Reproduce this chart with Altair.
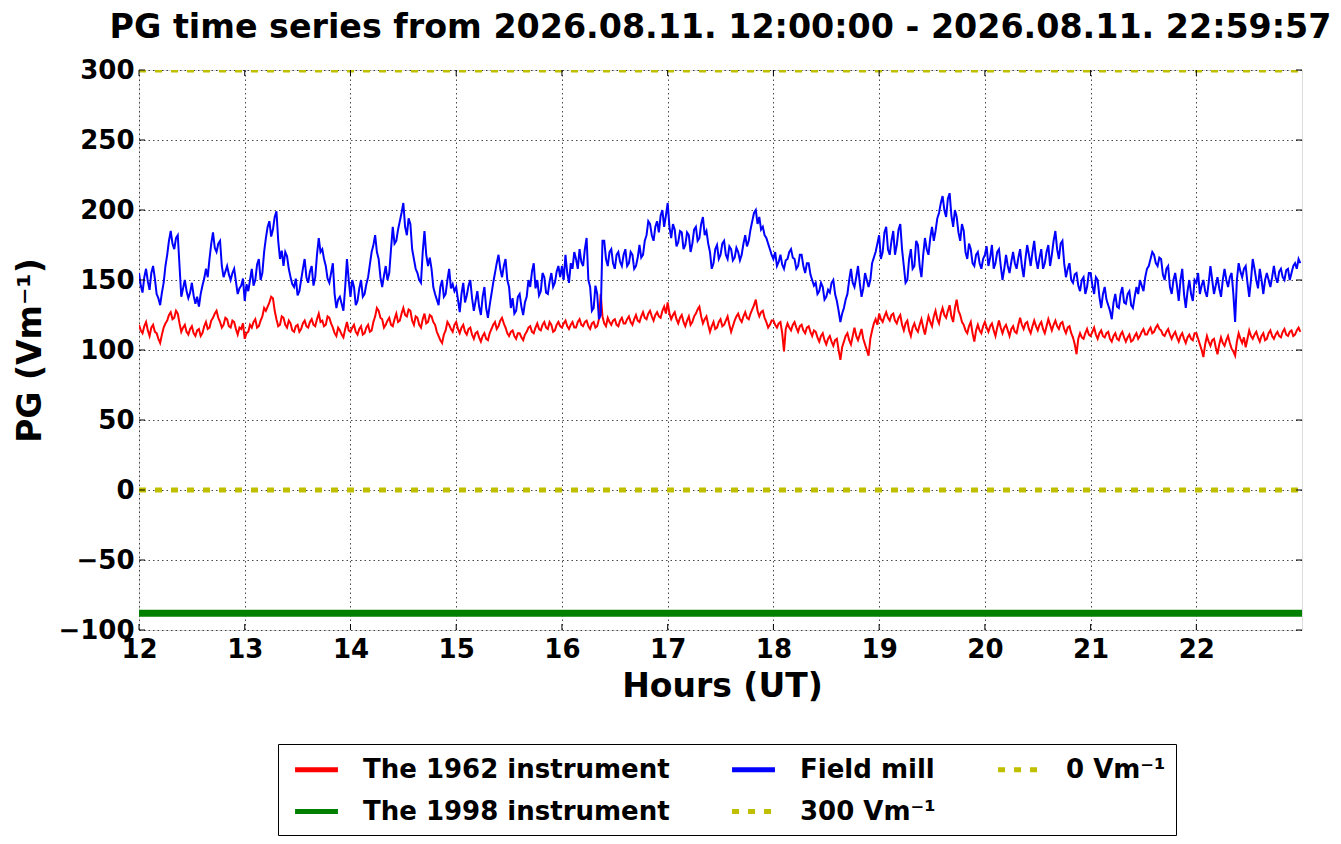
import altair as alt
import pandas as pd

TITLE = "PG time series from 2026.08.11. 12:00:00 - 2026.08.11. 22:59:57"
X_TITLE = "Hours (UT)"
Y_TITLE = "PG (Vm⁻¹)"

S_1962 = "The 1962 instrument"
S_1998 = "The 1998 instrument"
S_MILL = "Field mill"
S_300 = "300 Vm⁻¹"
S_0 = "0 Vm⁻¹"
# legend order (3 columns, filled column by column)
SERIES_ORDER = [S_1962, S_1998, S_MILL, S_300, S_0]
SERIES_COLORS = ["#ff0000", "#008000", "#0000ff", "#bfbf00", "#bfbf00"]
SERIES_DASH = [[1, 0], [1, 0], [1, 0], [7, 9], [7, 9]]

X_TICKS = list(range(12, 23))
Y_TICKS = list(range(-100, 301, 50))
X_DOMAIN = [12, 22.9992]
Y_DOMAIN = [-100, 300]

START_HOUR = 12
STEP_MIN = 1

# The 1962 instrument, one value per minute (rows = hours 12..22)
red_1962 = [
    118, 114, 112, 117, 120, 114, 110, 116, 118, 113, 112, 108, 105, 111, 116, 119, 121, 125, 127, 122, 123, 128, 126, 119, 113, 116, 118, 113, 111, 115,
    117, 112, 110, 114, 115, 110, 112, 117, 120, 115, 116, 121, 123, 126, 128, 123, 120, 116, 118, 123, 122, 117, 116, 121, 120, 115, 111, 116, 115, 119,
    108, 112, 113, 118, 116, 120, 122, 116, 117, 121, 124, 130, 128, 131, 134, 138, 137, 128, 122, 117, 118, 124, 123, 118, 116, 121, 119, 114, 113, 117,
    118, 113, 115, 119, 121, 117, 116, 120, 122, 118, 117, 122, 126, 120, 121, 117, 118, 124, 123, 119, 116, 112, 110, 116, 114, 111, 109, 115, 120, 114,
    113, 116, 118, 113, 111, 115, 117, 111, 112, 116, 118, 113, 114, 120, 124, 130, 128, 123, 122, 116, 118, 121, 123, 118, 117, 122, 126, 120, 121, 126,
    130, 125, 124, 129, 128, 121, 118, 124, 123, 118, 116, 122, 126, 119, 120, 125, 124, 120, 118, 113, 110, 107, 105, 111, 114, 120, 118, 115, 113, 118,
    120, 115, 112, 116, 118, 113, 111, 115, 116, 111, 108, 112, 113, 109, 106, 110, 112, 108, 107, 112, 115, 118, 120, 115, 117, 121, 123, 119, 116, 112,
    110, 113, 114, 110, 108, 112, 112, 109, 107, 111, 113, 116, 117, 113, 112, 116, 119, 115, 114, 118, 120, 116, 115, 120, 118, 113, 114, 118, 120, 117,
    116, 119, 121, 117, 115, 118, 120, 116, 116, 120, 122, 118, 117, 120, 121, 117, 115, 119, 120, 116, 117, 122, 140, 124, 119, 117, 123, 120, 118, 121,
    122, 118, 117, 121, 123, 119, 119, 122, 124, 120, 118, 122, 125, 121, 120, 124, 127, 123, 122, 126, 128, 124, 121, 125, 127, 124, 123, 128, 131, 126,
    134, 126, 122, 125, 127, 122, 119, 123, 125, 120, 117, 121, 124, 118, 120, 124, 126, 129, 131, 124, 119, 122, 124, 118, 113, 117, 120, 115, 116, 120,
    122, 117, 118, 121, 124, 118, 113, 117, 121, 124, 126, 122, 120, 124, 127, 123, 122, 126, 129, 132, 136, 128, 124, 127, 128, 123, 120, 116, 118, 121,
    121, 118, 116, 119, 120, 112, 99, 115, 119, 116, 114, 118, 120, 116, 113, 117, 118, 114, 112, 116, 117, 113, 110, 114, 113, 109, 106, 110, 112, 107,
    104, 108, 110, 106, 103, 107, 108, 100, 93, 102, 106, 110, 112, 107, 104, 110, 116, 110, 107, 111, 115, 108, 104, 100, 96, 108, 114, 119, 122, 118,
    126, 122, 120, 124, 127, 123, 121, 125, 126, 121, 119, 123, 125, 118, 114, 119, 121, 114, 110, 116, 119, 115, 113, 118, 122, 116, 111, 118, 124, 120,
    117, 124, 128, 122, 119, 126, 130, 125, 123, 128, 132, 124, 120, 130, 136, 128, 125, 120, 118, 114, 112, 117, 120, 112, 106, 114, 118, 114, 112, 117,
    120, 116, 113, 117, 119, 114, 110, 116, 121, 116, 112, 116, 118, 114, 110, 115, 117, 113, 112, 118, 123, 118, 115, 119, 120, 115, 112, 117, 121, 117,
    114, 118, 120, 115, 112, 117, 122, 118, 114, 118, 121, 117, 115, 119, 120, 115, 112, 116, 117, 112, 109, 104, 97, 108, 112, 109, 108, 112, 115, 111,
    110, 113, 116, 111, 108, 112, 114, 110, 109, 112, 113, 108, 106, 110, 112, 108, 107, 111, 113, 109, 106, 109, 111, 106, 107, 110, 112, 108, 110, 113,
    115, 111, 111, 114, 116, 112, 113, 116, 118, 115, 114, 111, 110, 113, 115, 111, 108, 111, 113, 109, 106, 110, 112, 108, 105, 109, 111, 108, 107, 112,
    112, 108, 104, 100, 95, 104, 110, 106, 103, 107, 108, 102, 97, 104, 109, 105, 103, 107, 110, 105, 101, 99, 96, 106, 112, 108, 105, 109, 102, 108,
    114, 110, 108, 111, 113, 109, 106, 110, 112, 107, 108, 112, 114, 110, 108, 111, 113, 110, 109, 113, 115, 111, 110, 113, 114, 110, 111, 114, 116, 113,
]

# Field mill, one value per minute (rows = hours 12..22)
field_mill = [
    155, 146, 141, 152, 158, 149, 143, 155, 160, 151, 140, 137, 132, 141, 148, 160, 168, 178, 185, 176, 172, 180, 182, 160, 138, 144, 150, 142, 137, 141,
    148, 139, 133, 138, 131, 140, 146, 151, 158, 152, 165, 176, 184, 173, 170, 176, 178, 160, 152, 156, 160, 154, 150, 155, 158, 149, 140, 144, 146, 151,
    135, 147, 142, 150, 158, 146, 150, 161, 165, 150, 155, 170, 180, 188, 192, 181, 186, 195, 199, 178, 165, 171, 160, 170, 167, 158, 152, 147, 145, 151,
    139, 142, 150, 158, 165, 152, 148, 156, 160, 146, 152, 168, 180, 170, 172, 165, 160, 151, 148, 155, 162, 140, 130, 136, 138, 133, 128, 145, 165, 150,
    138, 150, 145, 132, 135, 144, 150, 138, 140, 147, 152, 161, 170, 175, 182, 170, 165, 152, 145, 153, 160, 150, 155, 172, 188, 176, 178, 186, 192, 198,
    205, 188, 182, 194, 190, 172, 165, 158, 155, 150, 148, 170, 185, 168, 160, 166, 158, 145, 140, 136, 132, 145, 150, 138, 140, 150, 158, 144, 147, 142,
    145, 136, 127, 140, 148, 134, 139, 146, 150, 137, 128, 135, 142, 131, 125, 138, 145, 130, 123, 132, 140, 148, 155, 162, 168, 158, 152, 160, 165, 150,
    145, 130, 137, 126, 128, 138, 140, 131, 125, 134, 138, 150, 145, 156, 162, 144, 150, 139, 142, 155, 152, 141, 140, 149, 155, 145, 148, 156, 160, 152,
    160, 150, 168, 155, 148, 162, 158, 170, 165, 158, 172, 163, 160, 172, 180, 150, 145, 128, 130, 146, 140, 122, 125, 178, 178, 165, 160, 170, 172, 162,
    158, 168, 170, 163, 160, 168, 172, 160, 162, 170, 168, 158, 160, 166, 175, 166, 168, 178, 182, 192, 190, 182, 178, 188, 192, 184, 196, 200, 188, 196,
    205, 188, 180, 190, 186, 174, 177, 185, 184, 172, 175, 184, 182, 170, 176, 186, 188, 178, 180, 190, 195, 182, 185, 176, 170, 158, 162, 172, 175, 165,
    168, 176, 178, 168, 165, 174, 172, 164, 166, 173, 170, 164, 168, 176, 182, 174, 178, 186, 192, 198, 200, 190, 195, 186, 188, 182, 180, 176, 172, 168,
    165, 170, 160, 163, 168, 161, 158, 164, 165, 170, 172, 166, 165, 158, 160, 168, 168, 160, 155, 162, 162, 154, 150, 146, 148, 140, 142, 148, 145, 136,
    138, 143, 141, 148, 150, 140, 135, 128, 120, 126, 130, 136, 140, 150, 158, 148, 145, 152, 160, 148, 138, 144, 155, 150, 145, 150, 162, 166, 170, 176,
    182, 165, 170, 184, 188, 172, 168, 178, 185, 168, 175, 186, 190, 172, 160, 148, 150, 165, 172, 158, 160, 178, 175, 160, 152, 168, 180, 172, 168, 180,
    188, 178, 185, 194, 198, 205, 210, 200, 195, 208, 212, 196, 188, 200, 195, 184, 178, 190, 185, 170, 165, 176, 172, 162, 160, 168, 170, 162, 158, 165,
    168, 174, 160, 166, 175, 158, 162, 170, 172, 160, 150, 158, 168, 160, 155, 163, 170, 162, 158, 166, 172, 160, 152, 165, 175, 168, 160, 170, 178, 165,
    158, 166, 172, 158, 162, 170, 175, 160, 168, 178, 185, 172, 165, 176, 178, 162, 152, 158, 162, 150, 148, 154, 155, 146, 142, 150, 152, 140, 145, 155,
    155, 146, 140, 152, 150, 138, 130, 140, 145, 136, 132, 128, 122, 134, 140, 131, 130, 140, 145, 134, 133, 140, 142, 132, 130, 138, 145, 140, 150, 146,
    142, 152, 158, 160, 165, 170, 168, 162, 160, 166, 165, 154, 150, 158, 160, 145, 140, 150, 155, 146, 135, 150, 158, 140, 130, 142, 150, 140, 135, 150,
    148, 155, 140, 146, 150, 142, 138, 148, 160, 150, 140, 146, 152, 144, 138, 150, 158, 150, 145, 152, 155, 140, 120, 150, 162, 156, 152, 158, 160, 148,
    138, 150, 165, 158, 150, 144, 158, 150, 140, 150, 155, 150, 145, 152, 160, 152, 148, 156, 158, 152, 150, 157, 158, 150, 155, 160, 162, 158, 165, 162,
]

FLAT_HOURS = [12, 22.9992]
inst_1998 = [-88, -88]
ref_300 = [300, 300]
ref_0 = [0, 0]

rows = []
for i, v in enumerate(red_1962):
    rows.append({"hour": START_HOUR + i * STEP_MIN / 60, "pg": v, "series": S_1962})
for i, v in enumerate(field_mill):
    rows.append({"hour": START_HOUR + i * STEP_MIN / 60, "pg": v, "series": S_MILL})
for h, v in zip(FLAT_HOURS, inst_1998):
    rows.append({"hour": h, "pg": v, "series": S_1998})
for h, v in zip(FLAT_HOURS, ref_300):
    rows.append({"hour": h, "pg": v, "series": S_300})
for h, v in zip(FLAT_HOURS, ref_0):
    rows.append({"hour": h, "pg": v, "series": S_0})
df = pd.DataFrame(rows)

FONT = "DejaVu Sans"
W, H = 1163, 560

x_axis = alt.Axis(values=X_TICKS, format="d", labelFontSize=26, labelFontWeight="bold",
                  labelFont=FONT, labelColor="black", labelPadding=6, labelFlush=False,
                  labelOverlap=False, ticks=False, domain=False, grid=True,
                  gridColor="black", gridDash=[1.5, 3], gridWidth=0.8, gridOpacity=0.9,
                  title=X_TITLE, titleFontSize=33, titleFontWeight="bold", titleFont=FONT,
                  titleColor="black", titleX=583, titleY=56, titleAlign="center",
                  titleBaseline="middle")
y_axis = alt.Axis(values=Y_TICKS, format="d", labelFontSize=26, labelFontWeight="bold",
                  labelFont=FONT, labelColor="black", labelPadding=5, labelFlush=False,
                  labelOverlap=False, ticks=False, domain=False, grid=True,
                  gridColor="black", gridDash=[1.5, 3], gridWidth=0.8, gridOpacity=0.9,
                  title=Y_TITLE, titleFontSize=33, titleFontWeight="bold", titleFont=FONT,
                  titleColor="black", titleX=-109, titleY=280, titleAlign="center",
                  titleBaseline="middle", titleAngle=270)

x_enc = alt.X("hour:Q", scale=alt.Scale(domain=X_DOMAIN, nice=False, zero=False), axis=x_axis)
y_enc = alt.Y("pg:Q", scale=alt.Scale(domain=Y_DOMAIN, nice=False, zero=False), axis=y_axis)

legend = alt.Legend(title=None, orient="none", legendX=139, legendY=674, columns=3,
                    symbolType="M-0.65,0L2.65,0", symbolSize=676, symbolStrokeWidth=5,
                    labelFontSize=26, labelFontWeight="bold", labelFont=FONT,
                    labelColor="black", labelOffset=44, labelLimit=600, padding=10,
                    rowPadding=13, columnPadding=52, gridAlign="each",
                    strokeColor="black", fillColor="white", cornerRadius=0)

color_enc = alt.Color("series:N", scale=alt.Scale(domain=SERIES_ORDER, range=SERIES_COLORS),
                      legend=legend)
dash_enc = alt.StrokeDash("series:N", scale=alt.Scale(domain=SERIES_ORDER, range=SERIES_DASH),
                          legend=legend)

base = alt.Chart(df)


def series_layer(name, width):
    return base.transform_filter(alt.datum.series == name).mark_line(
        strokeWidth=width, clip=True, strokeCap="butt"
    ).encode(x=x_enc, y=y_enc, color=color_enc, strokeDash=dash_enc)


xt = pd.DataFrame({"hour": X_TICKS})
yt = pd.DataFrame({"pg": Y_TICKS})
TICK = 6
tick_layers = [
    alt.Chart(xt).mark_rule(color="black", strokeWidth=1).encode(
        x=x_enc, y=alt.value(H), y2=alt.value(H - TICK)),
    alt.Chart(xt).mark_rule(color="black", strokeWidth=1).encode(
        x=x_enc, y=alt.value(0), y2=alt.value(TICK)),
    alt.Chart(yt).mark_rule(color="black", strokeWidth=1).encode(
        y=y_enc, x=alt.value(0), x2=alt.value(TICK)),
    alt.Chart(yt).mark_rule(color="black", strokeWidth=1).encode(
        y=y_enc, x=alt.value(W), x2=alt.value(W - TICK)),
]

chart = alt.layer(
    series_layer(S_1962, 2),
    series_layer(S_1998, 7),
    series_layer(S_MILL, 2),
    series_layer(S_300, 5),
    series_layer(S_0, 5),
    *tick_layers,
).properties(
    width=W,
    height=H,
    title=alt.TitleParams(text=TITLE, fontSize=33.3, fontWeight="bold", font=FONT,
                          color="black", anchor="middle", frame="group", offset=12),
    autosize=alt.AutoSizeParams(type="none"),
    padding={"left": 131, "top": 62, "right": 31, "bottom": 206},
).configure_view(
    stroke="black", strokeWidth=1.2
).configure(
    font=FONT, background="white"
)

chart.save("out.html", embed_options={"renderer": "svg", "actions": False})
